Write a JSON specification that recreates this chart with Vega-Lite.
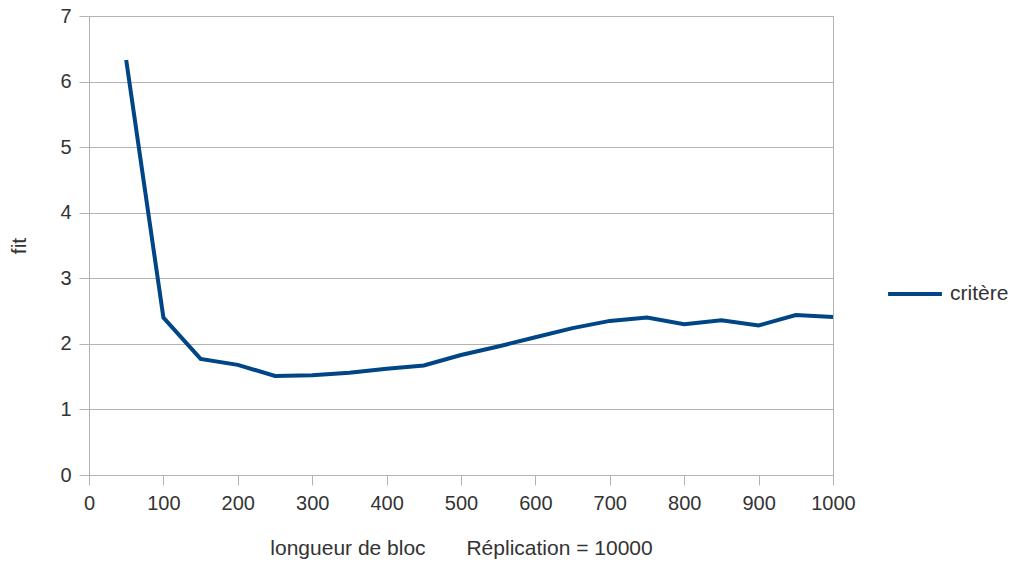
{
  "$schema": "https://vega.github.io/schema/vega-lite/v6.json",
  "width": 744,
  "height": 459,
  "autosize": "none",
  "padding": {"left": 89, "top": 16, "right": 181, "bottom": 91},
  "background": "white",
  "config": {
    "view": {"stroke": "#b3b3b3", "strokeWidth": 1},
    "font": "Liberation Sans",
    "axis": {
      "labelFont": "Liberation Sans",
      "titleFont": "Liberation Sans",
      "labelFontSize": 20,
      "titleFontSize": 21,
      "labelColor": "#333333",
      "titleColor": "#333333",
      "titleFontWeight": "normal",
      "domainColor": "#b3b3b3",
      "tickColor": "#b3b3b3",
      "gridColor": "#b3b3b3",
      "gridOpacity": 1,
      "tickSize": 10
    },
    "legend": {
      "labelFont": "Liberation Sans",
      "labelFontSize": 21,
      "labelColor": "#333333"
    }
  },
  "data": {
    "values": [
      {"x": 50, "fit": 6.33, "serie": "critère"},
      {"x": 100, "fit": 2.4, "serie": "critère"},
      {"x": 150, "fit": 1.77, "serie": "critère"},
      {"x": 200, "fit": 1.68, "serie": "critère"},
      {"x": 250, "fit": 1.51, "serie": "critère"},
      {"x": 300, "fit": 1.52, "serie": "critère"},
      {"x": 350, "fit": 1.56, "serie": "critère"},
      {"x": 400, "fit": 1.62, "serie": "critère"},
      {"x": 450, "fit": 1.67, "serie": "critère"},
      {"x": 500, "fit": 1.83, "serie": "critère"},
      {"x": 550, "fit": 1.96, "serie": "critère"},
      {"x": 600, "fit": 2.1, "serie": "critère"},
      {"x": 650, "fit": 2.24, "serie": "critère"},
      {"x": 700, "fit": 2.35, "serie": "critère"},
      {"x": 750, "fit": 2.4, "serie": "critère"},
      {"x": 800, "fit": 2.3, "serie": "critère"},
      {"x": 850, "fit": 2.36, "serie": "critère"},
      {"x": 900, "fit": 2.28, "serie": "critère"},
      {"x": 950, "fit": 2.44, "serie": "critère"},
      {"x": 1000, "fit": 2.41, "serie": "critère"}
    ]
  },
  "mark": {"type": "line", "strokeWidth": 4, "strokeJoin": "miter"},
  "encoding": {
    "x": {
      "field": "x",
      "type": "quantitative",
      "scale": {"domain": [0, 1000], "nice": false, "zero": true},
      "axis": {
        "values": [0, 100, 200, 300, 400, 500, 600, 700, 800, 900, 1000],
        "format": "d",
        "grid": false,
        "title": "longueur de bloc\u00a0\u00a0\u00a0\u00a0\u00a0\u00a0\u00a0Réplication = 10000",
        "labelPadding": 8,
        "titlePadding": 24,
        "labelFlush": false
      }
    },
    "y": {
      "field": "fit",
      "type": "quantitative",
      "scale": {"domain": [0, 7], "nice": false},
      "axis": {
        "values": [0, 1, 2, 3, 4, 5, 6, 7],
        "title": "fit",
        "labelPadding": 8,
        "titlePadding": 30
      }
    },
    "color": {
      "field": "serie",
      "type": "nominal",
      "scale": {"range": ["#004586"]},
      "legend": {
        "title": null,
        "orient": "none",
        "legendX": 797,
        "legendY": 249,
        "symbolType": "stroke",
        "symbolSize": 2900,
        "symbolStrokeWidth": 4,
        "labelOffset": 6
      }
    }
  }
}
